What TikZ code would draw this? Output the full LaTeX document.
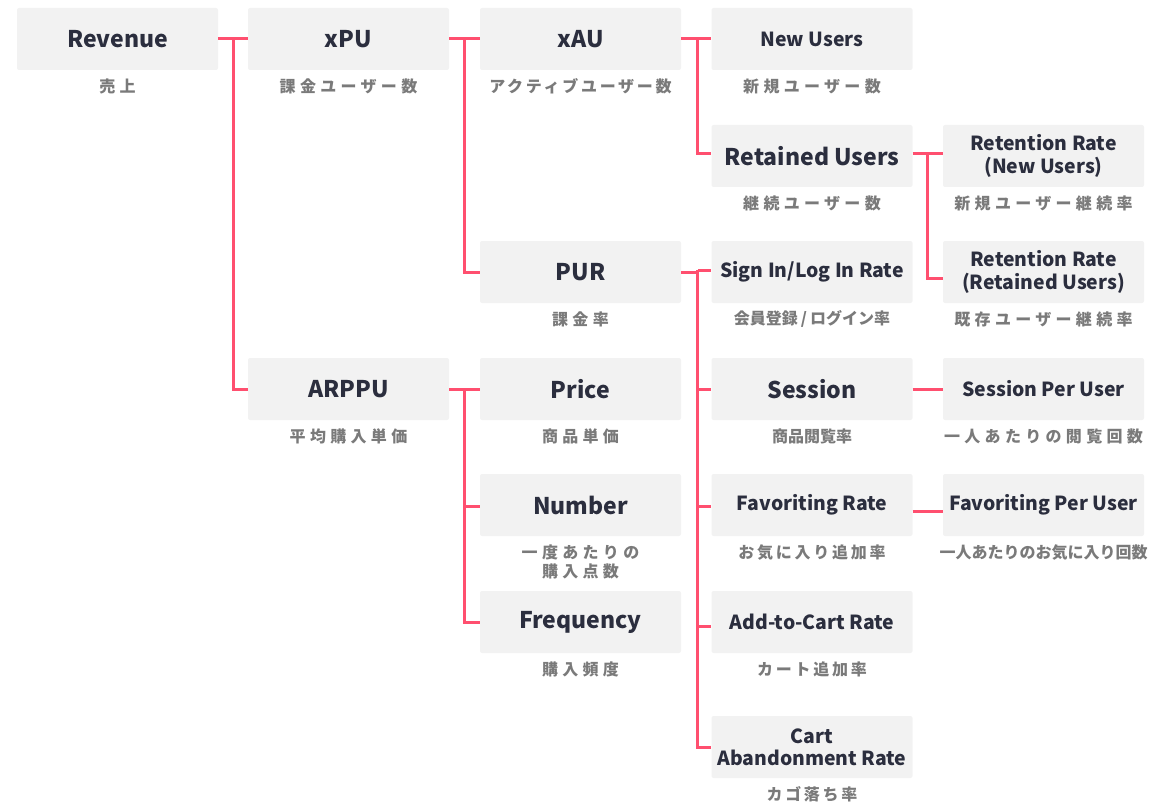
\documentclass[tikz,border=0pt]{standalone}
\usepackage{fontspec}
\usetikzlibrary{calc}
\setmainfont{Noto Sans CJK JP}
\newfontfamily\trackwide{Noto Sans CJK JP}[LetterSpace=27]
\newfontfamily\trackmid{Noto Sans CJK JP}[LetterSpace=17]
\definecolor{boxgray}{HTML}{F2F2F2}
\definecolor{ink}{HTML}{2B2E3E}
\definecolor{subgray}{HTML}{7A7A7A}
\definecolor{linkpink}{HTML}{FF4F6F}
\begin{document}
\begin{tikzpicture}[x=1pt,y=-1pt,
  card/.style={rectangle, rounded corners=2pt, fill=boxgray, minimum width=201pt,
    minimum height=62pt, inner sep=0pt, text=ink, align=center,
    font=\bfseries\fontsize{23}{25}\selectfont},
  cardsm/.style={card, font=\bfseries\fontsize{19.4}{22.3}\selectfont},
  sub/.style={text=subgray, inner sep=0pt, align=center,
    font=\trackwide\bfseries\fontsize{16}{19}\selectfont},
  submid/.style={sub, font=\trackmid\bfseries\fontsize{16}{19}\selectfont},
  subtight/.style={sub, font=\bfseries\fontsize{16}{19}\selectfont},
  link/.style={draw=linkpink, line width=3pt}]
\useasboundingbox (0,0) rectangle (1167,805);

% metric cards
\node[card]   (rev)   at (117.5,39)  {Revenue};
\node[card]   (xpu)   at (348.5,39)  {xPU};
\node[card]   (xau)   at (580.5,39)  {xAU};
\node[cardsm] (new)   at (812,39)    {New Users};
\node[card]   (ret)   at (812,156)   {Retained Users};
\node[cardsm] (rrn)   at (1043.5,156) {Retention Rate\\(New Users)};
\node[cardsm] (rrr)   at (1043.5,272) {Retention Rate\\(Retained Users)};
\node[card]   (pur)   at (580.5,272) {PUR};
\node[cardsm] (sign)  at (812,272)   {Sign In/Log In Rate};
\node[card]   (arppu) at (348.5,389) {ARPPU};
\node[card]   (price) at (580.5,389) {Price};
\node[card]   (sess)  at (812,389)   {Session};
\node[cardsm] (spu)   at (1043.5,389) {Session Per User};
\node[card]   (num)   at (580.5,505) {Number};
\node[cardsm] (fav)   at (812,505)   {Favoriting Rate};
\node[cardsm] (fpu)   at (1043.5,505) {Favoriting Per User};
\node[card]   (freq)  at (580.5,622) {Frequency};
\node[cardsm] (cart)  at (812,622)   {Add-to-Cart Rate};
\node[cardsm] (aband) at (812,747)   {Cart\\Abandonment Rate};

% Japanese captions under the cards
\node[sub]      (l-rev)   at ([yshift=-16pt]rev.south)   {売上};
\node[sub]      (l-xpu)   at ([yshift=-16pt]xpu.south)   {課金ユーザー数};
\node[submid]   (l-xau)   at ([yshift=-16pt]xau.south)   {アクティブユーザー数};
\node[sub]      (l-new)   at ([yshift=-16pt]new.south)   {新規ユーザー数};
\node[sub]      (l-ret)   at ([yshift=-16pt]ret.south)   {継続ユーザー数};
\node[sub]      (l-rrn)   at ([yshift=-16pt]rrn.south)   {新規ユーザー継続率};
\node[sub]      (l-rrr)   at ([yshift=-16pt]rrr.south)   {既存ユーザー継続率};
\node[sub]      (l-pur)   at ([yshift=-16pt]pur.south)   {課金率};
\node[subtight] (l-sign)  at ([yshift=-16pt]sign.south)  {会員登録\kern3pt/\kern3ptログイン率};
\node[sub]      (l-arppu) at ([yshift=-16pt]arppu.south) {平均購入単価};
\node[sub]      (l-price) at ([yshift=-16pt]price.south) {商品単価};
\node[subtight] (l-sess)  at ([yshift=-16pt]sess.south)  {商品閲覧率};
\node[sub]      (l-spu)   at ([yshift=-16pt]spu.south)   {一人あたりの閲覧回数};
\node[sub]      (l-num)   at ([yshift=-26pt]num.south)   {一度あたりの\\購入点数};
\node[submid]   (l-fav)   at ([yshift=-16pt]fav.south)   {お気に入り追加率};
\node[subtight] (l-fpu)   at ([yshift=-16pt]fpu.south)   {一人あたりのお気に入り回数};
\node[sub]      (l-freq)  at ([yshift=-16pt]freq.south)  {購入頻度};
\node[submid]   (l-cart)  at ([yshift=-16pt]cart.south)  {カート追加率};
\node[submid]   (l-aband) at ([yshift=-16pt]aband.south) {カゴ落ち率};

% branch points between columns
\coordinate (j1) at ($(rev.east)!0.5!(xpu.west)$);
\coordinate (j2) at ($(xpu.east)!0.5!(xau.west)$);
\coordinate (j3) at ($(xau.east)!0.55!(new.west)$);
\coordinate (j4) at ($(ret.east)!0.5!(rrn.west)$);
\coordinate (j5) at ($(pur.east)!0.55!(sign.west)$);
\coordinate (j6) at ($(arppu.east)!0.5!(price.west)$);

% connectors
\draw[link] (rev.east) -- (xpu.west);
\draw[link] (j1) |- (arppu.west);
\draw[link] (xpu.east) -- (xau.west);
\draw[link] (j2) |- (pur.west);
\draw[link] (xau.east) -- (new.west);
\draw[link] (j3) |- ([yshift=2pt]ret.west);
\draw[link] ([yshift=2pt]ret.east) -- ([yshift=2pt]rrn.west);
\draw[link] ([yshift=2pt]j4) |- ([yshift=-6pt]rrr.west);
\draw[link] (pur.east) -- (j5);
\draw[link] ([yshift=2pt]j5) |- (aband.west);
\draw[link] ([yshift=2pt]j5) -- ([yshift=2pt]sign.west);
\draw[link] (j5 |- sess.west) -- (sess.west);
\draw[link] ([yshift=-1.5pt]j5 |- fav.west) -- ([yshift=-1.5pt]fav.west);
\draw[link] ([yshift=-4pt]j5 |- cart.west) -- ([yshift=-4pt]cart.west);
\draw[link] (arppu.east) -- (price.west);
\draw[link] (j6) |- (freq.west);
\draw[link] ([yshift=-1.5pt]j6 |- num.west) -- ([yshift=-1.5pt]num.west);
\draw[link] (sess.east) -- (spu.west);
\draw[link] ([yshift=-6pt]fav.east) -- ([yshift=-6pt]fpu.west);
\end{tikzpicture}
\end{document}
